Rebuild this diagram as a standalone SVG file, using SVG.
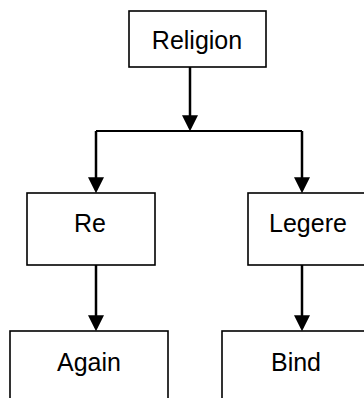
<svg xmlns="http://www.w3.org/2000/svg" width="364" height="398" viewBox="0 0 364 398">
<style>
.box{fill:#fff;stroke:#000;stroke-width:1.6}
.lbl{font-family:"Liberation Sans",Arial,sans-serif;font-size:25px;fill:#000;text-anchor:middle}
.con{fill:none;stroke:#000;stroke-width:2.5}
.hl{fill:none;stroke:#000;stroke-width:2}
</style>
<defs>
<marker id="ah" markerUnits="userSpaceOnUse" markerWidth="16" markerHeight="16" viewBox="0 0 15 15" refX="12" refY="7.5" orient="auto">
<path d="M0,0 L15,7.5 L0,15 z" fill="#000"/>
</marker>
</defs>
<rect width="364" height="398" fill="#fff"/>
<g id="connectors">
<line class="con" x1="190" y1="67" x2="190" y2="128" marker-end="url(#ah)"/>
<line class="hl" x1="96" y1="131" x2="302" y2="131"/>
<polyline class="con" points="96,131 96,190" marker-end="url(#ah)"/>
<polyline class="con" points="302,131 302,190" marker-end="url(#ah)"/>
<line class="con" x1="96" y1="265" x2="96" y2="328" marker-end="url(#ah)"/>
<line class="con" x1="302" y1="265" x2="302" y2="328" marker-end="url(#ah)"/>
</g>
<g id="religion">
<rect class="box" x="129" y="11" width="137" height="56"/>
<text class="lbl" x="197" y="49">Religion</text>
</g>
<g id="re">
<rect class="box" x="27" y="193" width="128" height="72"/>
<text class="lbl" x="90" y="232">Re</text>
</g>
<g id="legere">
<rect class="box" x="248" y="193" width="122" height="72"/>
<text class="lbl" x="308" y="232">Legere</text>
</g>
<g id="again">
<rect class="box" x="10" y="331" width="158" height="80"/>
<text class="lbl" x="89" y="371">Again</text>
</g>
<g id="bind">
<rect class="box" x="222" y="331" width="150" height="80"/>
<text class="lbl" x="296" y="371">Bind</text>
</g>
</svg>
